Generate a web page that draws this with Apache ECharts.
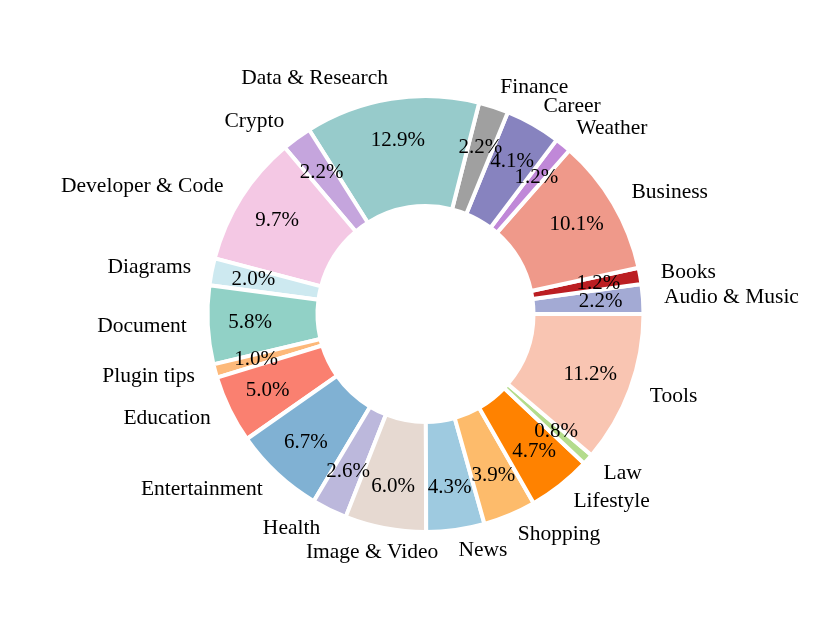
<!DOCTYPE html>
<html>
<head>
<meta charset="utf-8">
<script src="https://cdn.jsdelivr.net/npm/echarts@6/dist/echarts.min.js"></script>
<style>
  html, body { margin: 0; padding: 0; background: #ffffff; }
  #chart { width: 830px; height: 623px; }
</style>
</head>
<body>
<div id="chart"></div>
<script>
const categories = [
  'Audio & Music', 'Books', 'Business', 'Weather', 'Career', 'Finance',
  'Data & Research', 'Crypto', 'Developer & Code', 'Diagrams', 'Document',
  'Plugin tips', 'Education', 'Entertainment', 'Health', 'Image & Video',
  'News', 'Shopping', 'Lifestyle', 'Law', 'Tools'
];
const shares = [
  2.2, 1.2, 10.1, 1.2, 4.1, 2.2,
  12.9, 2.2, 9.7, 2.0, 5.8,
  1.0, 5.0, 6.7, 2.6, 6.0,
  4.3, 3.9, 4.7, 0.8, 11.2
];
const palette = [
  '#a3aad4', '#bb1e22', '#ef998a', '#c088d8', '#8783bf', '#a0a0a0',
  '#97cbcb', '#c5a5dd', '#f4c8e4', '#cde9f0', '#91d1c6',
  '#fdb97a', '#fa8070', '#80b1d3', '#bcb8dc', '#e6d9d1',
  '#9ecae0', '#fdbb6b', '#ff8200', '#b4dc8c', '#f9c5b2'
];

const pieData = categories.map((name, i) => ({ name: name, value: shares[i] }));
const FONT = 'Liberation Serif, Times New Roman, serif';
const center = [425.5, 314];
// small manual nudges of category labels (as in the reference)
const labelNudge = { 'Image & Video': [57, 3] };

const chart = echarts.init(document.getElementById('chart'), null, { renderer: 'canvas' });
chart.setOption({
  animation: false,
  backgroundColor: '#ffffff',
  color: palette,
  series: [
    {
      type: 'pie',
      center: center,
      radius: [108, 218],
      startAngle: 0,
      clockwise: false,
      avoidLabelOverlap: false,
      silent: true,
      emphasis: { disabled: true },
      itemStyle: { borderColor: '#ffffff', borderWidth: 4 },
      label: { show: false },
      labelLine: { show: false },
      data: pieData
    },
    {
      type: 'pie',
      center: center,
      radius: [150, 195],
      startAngle: 0,
      clockwise: false,
      avoidLabelOverlap: false,
      silent: true,
      emphasis: { disabled: true },
      labelLayout: { hideOverlap: false },
      itemStyle: { color: 'rgba(0,0,0,0)', borderWidth: 0 },
      label: {
        show: true,
        position: 'inside',
        color: '#000000',
        fontFamily: FONT,
        fontSize: 21,
        formatter: p => p.value.toFixed(1) + '%'
      },
      labelLine: { show: false },
      data: pieData
    },
    {
      type: 'pie',
      center: center,
      radius: [108, 218],
      startAngle: 0,
      clockwise: false,
      avoidLabelOverlap: false,
      silent: true,
      emphasis: { disabled: true },
      labelLayout: function (params) {
        const n = labelNudge[categories[params.dataIndex]];
        return n ? { hideOverlap: false, dx: n[0], dy: n[1] } : { hideOverlap: false };
      },
      itemStyle: { color: 'rgba(0,0,0,0)', borderWidth: 0 },
      label: {
        show: true,
        position: 'outside',
        color: '#000000',
        fontFamily: FONT,
        fontSize: 21.5,
        distanceToLabelLine: 0,
        formatter: '{b}'
      },
      labelLine: { show: false, length: 21, length2: 0 },
      data: pieData
    }
  ]
});
</script>
</body>
</html>
